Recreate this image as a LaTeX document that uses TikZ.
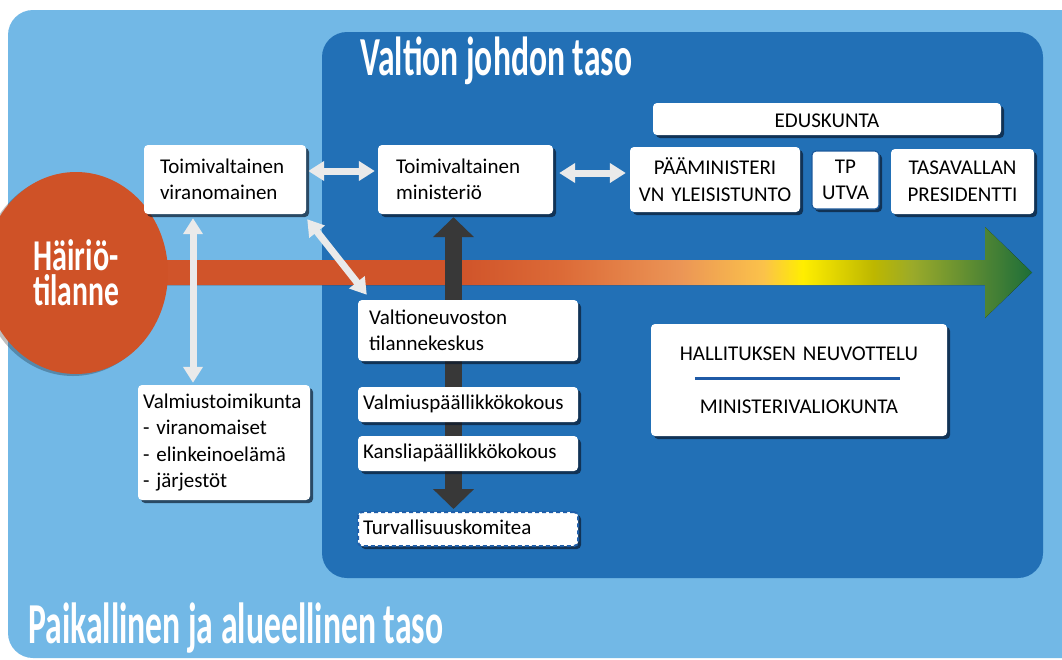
\documentclass[tikz,border=0pt]{standalone}
\usepackage{fontspec}
\setmainfont{Carlito}
\usetikzlibrary{shapes.geometric,arrows.meta,shadows}
\definecolor{lightbg}{HTML}{72B8E6}
\definecolor{darkbg}{HTML}{2270B6}
\definecolor{hred}{HTML}{CF5227}
\definecolor{lgray}{HTML}{EAEAEA}
\definecolor{dgray}{HTML}{383838}
\definecolor{shadowc}{HTML}{0B1A2E}
\definecolor{tpblue}{HTML}{1C5A9C}
\definecolor{dashblue}{HTML}{1F5FAA}
\definecolor{hlineblue}{HTML}{1F5AA6}
\definecolor{b1}{HTML}{D0542A}
\definecolor{b2}{HTML}{DC6A37}
\definecolor{b3}{HTML}{EB9556}
\definecolor{b4}{HTML}{FBC24A}
\definecolor{b5}{HTML}{FFEE00}
\definecolor{b6}{HTML}{BDB700}
\definecolor{b7}{HTML}{9AAA2A}
\definecolor{b8}{HTML}{4E8434}
\definecolor{b9}{HTML}{1D6E38}
\pgfdeclarehorizontalshading{bandshade}{100bp}{color(0bp)=(b1); color(25bp)=(b1); color(44.3bp)=(b1); color(49.7bp)=(b2); color(56.1bp)=(b3); color(60.6bp)=(b4); color(62.7bp)=(b5); color(66.5bp)=(b6); color(68.6bp)=(b7); color(72.5bp)=(b8); color(75bp)=(b9); color(100bp)=(b9)}
\pgfdeclarelayer{bg}
\pgfdeclarelayer{mid}
\pgfsetlayers{bg,mid,main}
\newsavebox\condbox
\newcommand\condtxt[2]{\leavevmode\sbox\condbox{#2}\pgfmathsetmacro\cfac{#1/(\the\wd\condbox)}\scalebox{\cfac}[1]{#2}}
\newcommand\boxfont{\fontsize{21}{26.5}\selectfont}
\tikzset{
  wbox/.style={rectangle, rounded corners=4pt, fill=white, text=black, inner ysep=0pt, font=\boxfont,
    drop shadow={shadow xshift=3pt, shadow yshift=-3pt, opacity=0.7, fill=shadowc}},
  oneline/.style={text height=14.5pt, text depth=4.5pt},
  lgarrow/.style={draw=lgray, line width=7pt, {Triangle[width=19pt,length=16pt]}-{Triangle[width=19pt,length=16pt]}},
  darrow/.style={draw=dgray, line width=17pt, {Triangle[width=40pt,length=20pt]}-{Triangle[width=40pt,length=20pt]}},
  titletext/.style={anchor=base west, inner sep=0pt, text=white}
}
\begin{document}
\begin{tikzpicture}[x=1pt,y=-1pt]
\useasboundingbox (0,0) rectangle (1062,659);
\begin{pgfonlayer}{bg}
\clip (0,0) rectangle (1062,659);
\fill[white] (0,0) rectangle (1062,659);
\fill[lightbg, rounded corners=25pt] (8,10) rectangle (1100,658);
\fill[darkbg, rounded corners=25pt] (322,32) rectangle (1043,578);
\fill[shading=bandshade] (100,260) -- (985,260) -- (985,227) -- (1032,272.5) -- (985,318) -- (985,285) -- (100,285) -- cycle;
\end{pgfonlayer}

% titles
\node[titletext, font=\fontsize{55}{55}\selectfont\bfseries] (vtitle) at (360,75) {\condtxt{272}{Valtion johdon taso}};
\node[titletext, font=\fontsize{58}{58}\selectfont\bfseries] (ptitle) at (28,643) {\condtxt{415}{Paikallinen ja alueellinen taso}};

% disturbance ellipse
\node[ellipse, fill=hred, minimum width=138pt, minimum height=202pt, inner sep=0pt, text=white,
      drop shadow={shadow xshift=-3pt, shadow yshift=-2pt, opacity=0.25, fill=black},
      font=\fontsize{44}{35}\selectfont\bfseries] (hair) at (76,273)
  {\raisebox{6pt}{\parbox{130pt}{\centering\condtxt{85}{Häiriö-}\\\condtxt{86}{tilanne}}}};

% boxes
\node[wbox, minimum width=162pt, minimum height=69pt, inner xsep=16pt, text width=130pt, align=left] (vir) at (225,179.5) {Toimivaltainen\\viranomainen};
\node[wbox, minimum width=175pt, minimum height=69pt, inner xsep=18pt, text width=139pt, align=left] (min) at (465.5,179.5) {Toimivaltainen\\ministeriö};
\node[wbox, text height=16.5pt, text depth=0.5pt, minimum width=348pt, minimum height=32pt, inner xsep=0pt] (edus) at (827,119) {EDUSKUNTA};
\node[wbox, minimum width=170pt, minimum height=65pt, inner xsep=0pt, text width=170pt, align=center] (pm) at (715,179.5) {PÄÄMINISTERI\\VN YLEISISTUNTO};
\node[wbox, draw=tpblue, line width=1.2pt, minimum width=67pt, minimum height=58pt, inner xsep=0pt, text width=66pt, align=center] (tp) at (845.5,180) {TP\\UTVA};
\node[wbox, minimum width=143pt, minimum height=65pt, inner xsep=0pt, text width=143pt, align=center] (pres) at (962.5,181.5) {TASAVALLAN\\PRESIDENTTI};
\node[wbox, minimum width=220pt, minimum height=61pt, inner xsep=11pt, text width=198pt, align=left] (tk) at (468,330.5) {Valtioneuvoston\\tilannekeskus};
\node[wbox, oneline, minimum width=220pt, minimum height=35pt, inner xsep=5pt, text width=210pt, align=left] (vpk) at (468,404.5) {Valmiuspäällikkökokous};
\node[wbox, oneline, minimum width=220pt, minimum height=35pt, inner xsep=5pt, text width=210pt, align=left] (kpk) at (468,453.5) {Kansliapäällikkökokous};
\node[wbox, oneline, draw=dashblue, line width=2pt, dash pattern=on 4pt off 3pt, minimum width=220pt, minimum height=34pt, inner xsep=5pt, text width=210pt, align=left] (turv) at (468,529) {Turvallisuuskomitea};
\node[wbox, minimum width=172pt, minimum height=115pt, inner xsep=5pt, text width=162pt, align=left] (vtk) at (224,442.5) {Valmiustoimikunta\\- viranomaiset\\- elinkeinoelämä\\- järjestöt};
\node[wbox, minimum width=296pt, minimum height=112pt, inner xsep=0pt, text width=296pt, align=center, font=\fontsize{21}{53}\selectfont] (hall) at (799,380) {HALLITUKSEN NEUVOTTELU\\MINISTERIVALIOKUNTA};
\draw[hlineblue, line width=3pt] ([xshift=44pt,yshift=2pt]hall.west) -- ([xshift=-47pt,yshift=2pt]hall.east);

% connectors
\begin{pgfonlayer}{mid}
\draw[lgarrow] ([shift={(2,-8.5)}]vir.east) -- ([shift={(-3,-8.5)}]min.west);
\draw[lgarrow] ([shift={(6,-6.5)}]min.east) -- ([shift={(-4,-6.5)}]pm.west);
\coordinate (vtop) at ([shift={(-32,4)}]vir.south);
\draw[lgarrow] (vtop) -- ([yshift=2pt]vtop |- vtk.north);
\draw[lgarrow] ([shift={(1,5)}]vir.south east) -- ([shift={(9,-5)}]tk.north west);
\coordinate (dtop) at ([shift={(-12,3)}]min.south);
\draw[darrow] (dtop) -- ([yshift=2pt]dtop |- turv.north);
\end{pgfonlayer}
\end{tikzpicture}
\end{document}
